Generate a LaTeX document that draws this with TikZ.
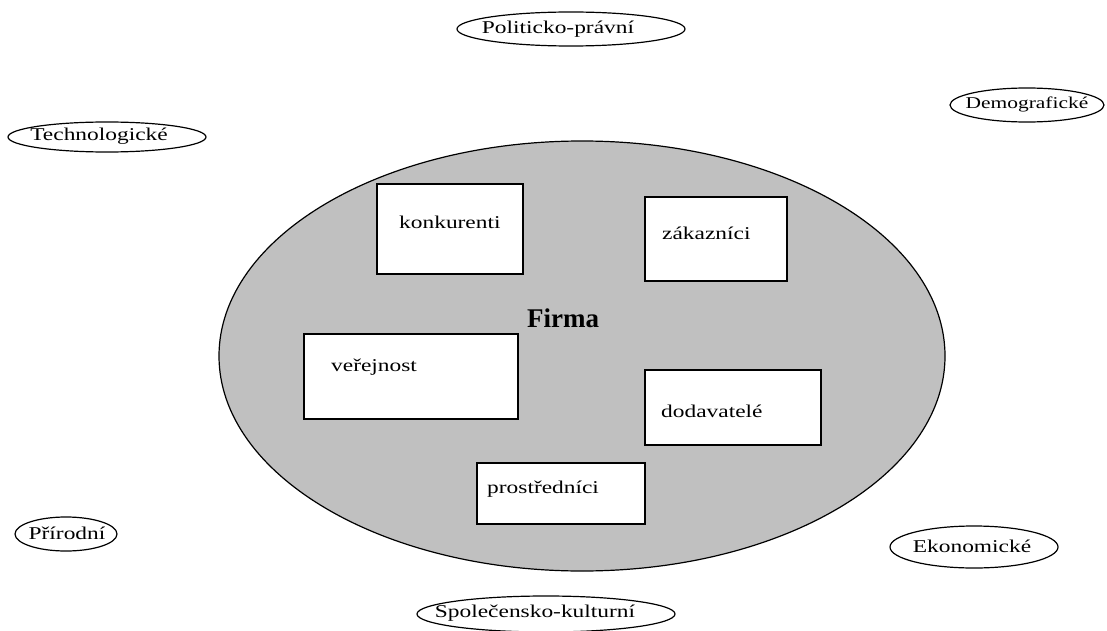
\documentclass[tikz,border=0pt]{standalone}
\usepackage{fontspec}
\setmainfont{Liberation Serif}
\newfontfamily\widefont[FakeStretch=1.3]{Liberation Serif}
\usetikzlibrary{shapes.geometric}
\definecolor{firmgray}{RGB}{192,192,192}
\tikzset{
  every picture/.style={x=1pt,y=-1pt},
  factor/.style={draw=black,line width=1.2pt},
  box/.style={draw=black,fill=white,line width=1.3pt},
  lbl/.style={font=\widefont\fontsize{18}{20}\selectfont,anchor=west,inner sep=0pt},
}
\begin{document}
\begin{tikzpicture}
\useasboundingbox (0,0) rectangle (1107,631);
% outer factors
\draw[factor] (571,29) ellipse [x radius=114, y radius=17];
\node[lbl,anchor=center] (pol) at (558,29) {Politicko-právní};
\draw[factor] (107,137) ellipse [x radius=99, y radius=15];
\node[lbl,anchor=center] (tech) at (99,136) {Technologické};
\draw[factor] (1027,105) ellipse [x radius=77, y radius=17];
\node[lbl,anchor=center,font=\widefont\fontsize{16.5}{20}\selectfont] (dem) at (1027,104) {Demografické};
\draw[factor] (66,534) ellipse [x radius=51, y radius=17];
\node[lbl,anchor=center] (pri) at (67,533) {Přírodní};
\draw[factor] (974,547) ellipse [x radius=84, y radius=21];
\node[lbl,anchor=center] (eko) at (972,546) {Ekonomické};
\draw[factor] (546,614) ellipse [x radius=129, y radius=18];
\node[lbl,anchor=center] (spol) at (535,613) {Společensko-kulturní};
% firm
\draw[factor,fill=firmgray] (582,356) ellipse [x radius=363, y radius=215];
\node[font=\bfseries\fontsize{27}{30}\selectfont,inner sep=0pt] (firma) at (563,318) {Firma};
% boxes
\draw[box] (377,184) rectangle (523,274);
\node[lbl] (kon) at (399,222) {konkurenti};
\draw[box] (645,197) rectangle (787,281);
\node[lbl] (zak) at (662,233) {zákazníci};
\draw[box] (304,334) rectangle (518,419);
\node[lbl] (ver) at (331,367) {veřejnost};
\draw[box] (645,370) rectangle (821,445);
\node[lbl] (dod) at (661,411) {dodavatelé};
\draw[box] (477,463) rectangle (645,524);
\node[lbl] (pro) at (487,489) {prostředníci};
\end{tikzpicture}
\end{document}
